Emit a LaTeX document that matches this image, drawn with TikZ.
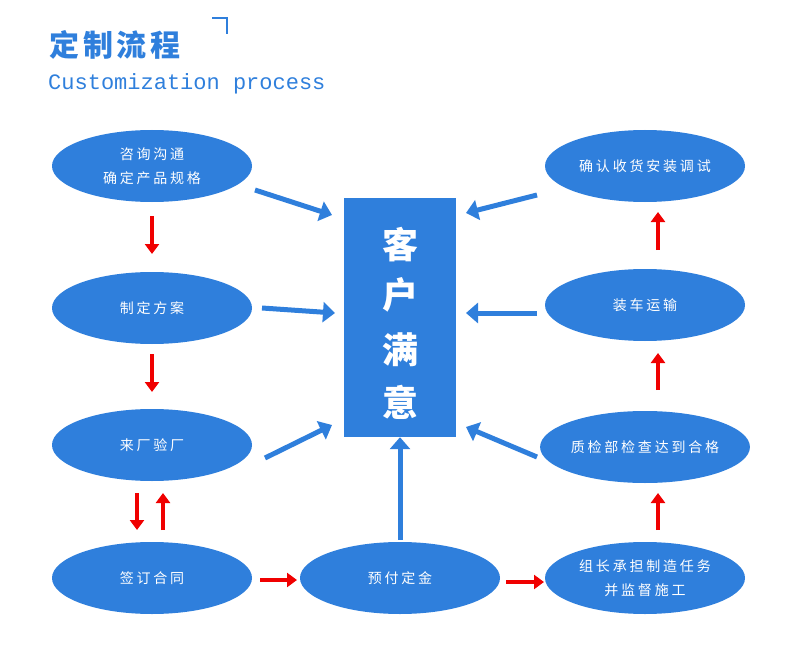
\documentclass[tikz,border=0pt]{standalone}
\usepackage{fontspec}
\usetikzlibrary{arrows.meta,shapes.geometric}
\newfontfamily\cjk[LetterSpace=20]{Noto Sans CJK SC}
\newfontfamily\cjkt[LetterSpace=12]{Noto Sans CJK SC}
\setmonofont{Liberation Mono}
\definecolor{mb}{HTML}{2F7FDC}
\definecolor{rr}{HTML}{F00000}
\begin{document}
\begin{tikzpicture}[x=1pt,y=-1pt,
 el/.style={ellipse,fill=mb,minimum width=200pt,minimum height=72pt,inner sep=0pt,text=white,align=center,font=\cjk\fontsize{14}{24}\selectfont},
 ba/.style={draw=mb,line width=5pt,-{Triangle[width=20pt,length=12pt]}},
 ra/.style={draw=rr,line width=4pt,-{Triangle[width=14pt,length=10pt]}}]
\useasboundingbox (0,0) rectangle (790,666);
\node[anchor=west,text=mb,font=\cjkt\bfseries\fontsize{30}{30}\selectfont] (t) at (46,45) {定制流程};
\draw[mb,line width=2.5pt] (212,18) -- (227,18) -- (227,34);
\node[anchor=west,text=mb,font=\ttfamily\fontsize{22}{22}\selectfont,inner sep=0pt] (st) at (48,84) {Customization process};
\node[rectangle,fill=mb,minimum width=112pt,minimum height=239pt] (c) at (400,317.5) {};
\foreach \ch/\yy in {客/245,户/295,满/350,意/402}
  \node[text=white,font=\cjk\bfseries\fontsize{36}{36}\selectfont] at (400,\yy) {\ch};
\node[el] (a1) at (152,166) {咨询沟通\\确定产品规格};
\node[el] (a2) at (152,308) {制定方案};
\node[el] (a3) at (152,445) {来厂验厂};
\node[el] (a4) at (152,578) {签订合同};
\node[el] (m) at (400,578) {预付定金};
\node[el] (b4) at (645,578) {组长承担制造任务\\并监督施工};
\node[el] (b3) at (645,447) {质检部检查达到合格};
\node[el] (b2) at (645,305) {装车运输};
\node[el] (b1) at (645,166) {确认收货安装调试};
\coordinate (p1) at (255,190); \coordinate (q1) at (332,215);
\coordinate (p2) at (262,308); \coordinate (q2) at (335,313);
\coordinate (p3) at (265,458); \coordinate (q3) at (332,425);
\coordinate (r1) at (537,195); \coordinate (s1) at (466,213);
\coordinate (r2) at (537,313); \coordinate (s2) at (466,313);
\coordinate (r3) at (537,457); \coordinate (s3) at (466,427);
\draw[ba] (p1) -- (q1); \draw[ba] (p2) -- (q2); \draw[ba] (p3) -- (q3);
\draw[ba] (r1) -- (s1); \draw[ba] (r2) -- (s2); \draw[ba] (r3) -- (s3);
\draw[ba] (m.north) ++(0,-2) -- (c.south);
\draw[ra] (152,216) -- (152,254);
\draw[ra] (152,354) -- (152,392);
\draw[ra] (137,493) -- (137,530);
\draw[ra] (163,530) -- (163,493);
\draw[ra] (260,580) -- (297,580);
\draw[ra] (506,582) -- (544,582);
\draw[ra] (658,530) -- (658,493);
\draw[ra] (658,390) -- (658,353);
\draw[ra] (658,250) -- (658,212);
\end{tikzpicture}
\end{document}
